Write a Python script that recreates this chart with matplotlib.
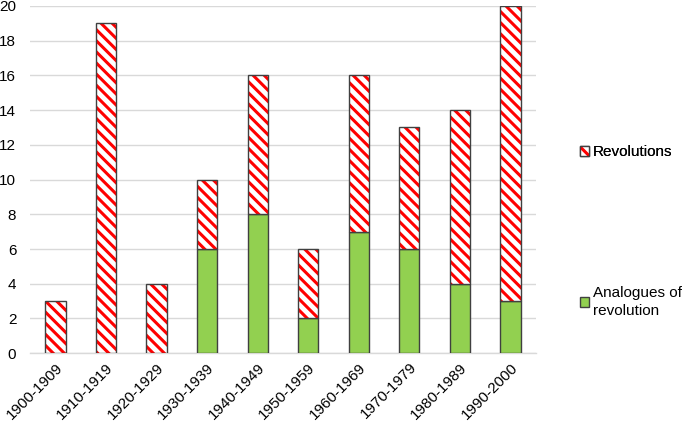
import matplotlib
matplotlib.use("Agg")
import matplotlib.pyplot as plt
from matplotlib.patches import Patch

plt.rcParams['font.family'] = ['Liberation Sans', 'DejaVu Sans']
plt.rcParams['hatch.linewidth'] = 2.2

decades = ["1900-1909", "1910-1919", "1920-1929", "1930-1939", "1940-1949",
           "1950-1959", "1960-1969", "1970-1979", "1980-1989", "1990-2000"]
analogues = [0, 0, 0, 6, 8, 2, 7, 6, 4, 3]
revolutions = [3, 19, 4, 4, 8, 4, 9, 7, 10, 17]

fig = plt.figure(figsize=(6.85, 4.23), dpi=100)
ax = fig.add_axes([0.044, 0.165, 0.738, 0.821])

x = list(range(len(decades)))
w = 0.4
green = '#92d050'
edge = '#404040'
fs = 11.0

ax.bar(x, analogues, width=w, color=green, edgecolor=edge, linewidth=1.0, zorder=3)
ax.bar(x, revolutions, width=w, bottom=analogues, facecolor='white',
       edgecolor='#ff0000', hatch='\\\\\\', linewidth=0, zorder=3)
ax.bar(x, revolutions, width=w, bottom=analogues, fill=False,
       edgecolor=edge, linewidth=1.0, zorder=4)

ax.set_ylim(0, 20)
ax.set_xlim(-0.5, len(decades) - 0.5)
ax.set_yticks(range(0, 21, 2))
ax.tick_params(axis='y', length=0, labelsize=fs, colors='black', pad=10)
ax.set_xticks(x)
ax.set_xticklabels(decades, rotation=45, ha='right', rotation_mode='anchor', fontsize=fs)
ax.tick_params(axis='x', length=0, pad=5)
ax.grid(axis='y', color='#d9d9d9', linewidth=1.0, zorder=0)
for s in ['top', 'right', 'left']:
    ax.spines[s].set_visible(False)
ax.spines['bottom'].set_color('#d9d9d9')
ax.spines['bottom'].set_linewidth(1.0)

h_rev = Patch(facecolor='white', edgecolor='#ff0000', hatch='\\\\\\', linewidth=0)
h_rev_frame = Patch(fill=False, edgecolor=edge, linewidth=1.0)
h_ana = Patch(facecolor=green, edgecolor=edge, linewidth=1.0)

leg1 = fig.legend([(h_rev, h_rev_frame)], ["Revolutions"], loc='center left',
                  bbox_to_anchor=(0.826, 1 - 152 / 423), frameon=False, fontsize=fs,
                  handlelength=0.65, handleheight=0.65, handletextpad=0.2)
fig.add_artist(leg1)
leg2 = fig.legend([h_ana], ["Analogues of\nrevolution"], loc='center left',
                  bbox_to_anchor=(0.826, 1 - 302 / 423), frameon=False, fontsize=fs,
                  handlelength=0.65, handleheight=0.65, handletextpad=0.2)
for t in leg2.get_texts():
    t.set_linespacing(1.45)

fig.savefig("out.png", dpi=100)
